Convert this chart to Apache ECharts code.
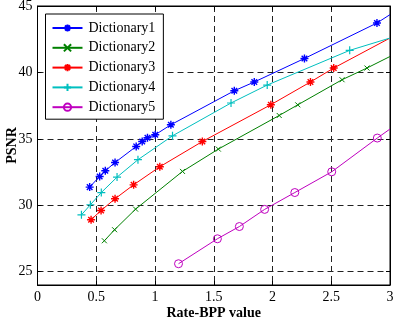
<!DOCTYPE html>
<html>
<head>
<meta charset="utf-8">
<script src="https://cdn.jsdelivr.net/npm/echarts@6/dist/echarts.min.js"></script>
<style>html,body{margin:0;padding:0;background:#fff}#c{width:394px;height:322px}</style>
</head>
<body>
<div id="c"></div>
<script>
const seriesNames = ['Dictionary1', 'Dictionary2', 'Dictionary3', 'Dictionary4', 'Dictionary5'];
const xTicks = [0, 0.5, 1, 1.5, 2, 2.5, 3];
const yTicks = [25, 30, 35, 40, 45];

const dict1X = [0.444, 0.529, 0.577, 0.660, 0.840, 0.891, 0.936, 1.002, 1.135, 1.675, 1.845, 2.272, 2.889];
const dict1Y = [31.37, 32.17, 32.60, 33.22, 34.43, 34.80, 35.08, 35.31, 36.06, 38.62, 39.28, 41.05, 43.72];
const dict2X = [0.569, 0.656, 0.835, 1.234, 1.539, 2.057, 2.215, 2.592, 2.804];
const dict2Y = [27.33, 28.16, 29.71, 32.55, 34.23, 36.76, 37.56, 39.45, 40.33];
const dict3X = [0.456, 0.541, 0.660, 0.818, 1.041, 1.403, 1.986, 2.323, 2.521];
const dict3Y = [28.91, 29.61, 30.49, 31.54, 32.90, 34.80, 37.57, 39.28, 40.33];
const dict4X = [0.374, 0.450, 0.543, 0.677, 0.855, 1.149, 1.647, 1.955, 2.657];
const dict4Y = [29.28, 30.04, 30.96, 32.12, 33.43, 35.23, 37.70, 39.05, 41.66];
const dict5X = [1.200, 1.531, 1.718, 1.933, 2.190, 2.504, 2.892];
const dict5Y = [25.60, 27.48, 28.40, 29.69, 30.96, 32.52, 35.06];
// where each curve leaves the plot at its right edge (x = 3)
const edgeY = [44.35, 41.20, 42.59, 42.59, 35.74];

const colors = ['#0000ff', '#008000', '#ff0000', '#00bfbf', '#bf00bf'];
const symbols = [
  'path://M0,-1L0,1M-1,0L1,0M-0.7,-0.7L0.7,0.7M-0.7,0.7L0.7,-0.7',
  'path://M-1,-1L1,1M-1,1L1,-1',
  'path://M0,-1L0,1M-1,0L1,0M-0.7,-0.7L0.7,0.7M-0.7,0.7L0.7,-0.7',
  'path://M0,-1L0,1M-1,0L1,0',
  'circle'
];
const symSizes = [8, 5, 8, 8, 8];
const borderW = [1.4, 1, 1.4, 1.2, 1];

const xs = [dict1X, dict2X, dict3X, dict4X, dict5X];
const ys = [dict1Y, dict2Y, dict3Y, dict4Y, dict5Y];

const FONT = 'Liberation Serif';

const series = seriesNames.map((name, i) => {
  const data = xs[i].map((x, k) => [x, ys[i][k]]);
  data.push({ value: [3, edgeY[i]], symbol: 'none' });
  return {
    name: name,
    type: 'line',
    data: data,
    symbol: symbols[i],
    symbolSize: symSizes[i],
    showSymbol: true,
    clip: true,
    lineStyle: { color: colors[i], width: 1 },
    itemStyle: {
      color: i === 4 ? 'rgba(0,0,0,0)' : colors[i],
      borderColor: colors[i],
      borderWidth: borderW[i]
    },
    emphasis: { disabled: true },
    animation: false,
    xAxisIndex: 0,
    yAxisIndex: 0,
    z: 3
  };
});

const gridLine = { show: true, lineStyle: { color: '#222', type: [6, 4], width: 1 } };

const chart = echarts.init(document.getElementById('c'), null, { renderer: 'canvas' });
chart.setOption({
  backgroundColor: '#fff',
  animation: false,
  textStyle: { fontFamily: FONT },
  grid: { left: 37.5, right: 4, top: 6, bottom: 37, show: true, borderColor: '#000', borderWidth: 1, backgroundColor: 'transparent', containLabel: false, outerBoundsMode: 'none' },
  legend: {
    orient: 'vertical',
    left: 45.5,
    top: 14,
    data: seriesNames,
    backgroundColor: '#fff',
    borderColor: '#000',
    borderWidth: 1,
    padding: [7, 8, 5, 6],
    itemGap: 5.8,
    itemWidth: 30,
    itemHeight: 9,
    textStyle: { fontFamily: FONT, fontSize: 14, lineHeight: 14, color: '#000', padding: [0, 0, 0, 1] }
  },
  xAxis: [{
    type: 'value', min: 0, max: 3, interval: 0.5,
    name: 'Rate-BPP value', nameLocation: 'middle', nameGap: 21, nameMoveOverlap: false,
    nameTextStyle: { fontFamily: FONT, fontSize: 14, fontWeight: 'bold', color: '#000' },
    axisLine: { show: true, onZero: false, lineStyle: { color: '#000', width: 1 } },
    axisTick: { show: true, inside: true, length: 4, lineStyle: { color: '#000' } },
    axisLabel: { fontFamily: FONT, fontSize: 14, color: '#000', margin: 5, showMinLabel: true, showMaxLabel: true },
    splitLine: gridLine
  }, {
    type: 'value', min: 0, max: 3, interval: 0.5, position: 'top',
    axisLine: { show: true, onZero: false, lineStyle: { color: '#000' } },
    axisTick: { show: true, inside: true, length: 4, lineStyle: { color: '#000' } },
    axisLabel: { show: false }, splitLine: { show: false }
  }],
  yAxis: [{
    type: 'value', min: 24, max: 45,
    name: 'PSNR', nameLocation: 'middle', nameGap: 18, nameRotate: 90, nameMoveOverlap: false,
    nameTextStyle: { fontFamily: FONT, fontSize: 14, fontWeight: 'bold', color: '#000' },
    axisLine: { show: true, onZero: false, lineStyle: { color: '#000', width: 1 } },
    axisTick: { show: true, inside: true, length: 4, customValues: yTicks, lineStyle: { color: '#000' } },
    axisLabel: { fontFamily: FONT, fontSize: 14, color: '#000', margin: 5, customValues: yTicks },
    splitLine: gridLine
  }, {
    type: 'value', min: 24, max: 45, position: 'right',
    axisLine: { show: true, onZero: false, lineStyle: { color: '#000' } },
    axisTick: { show: true, inside: true, length: 4, customValues: yTicks, lineStyle: { color: '#000' } },
    axisLabel: { show: false }, splitLine: { show: false }
  }],
  series: series
});
</script>
</body>
</html>
